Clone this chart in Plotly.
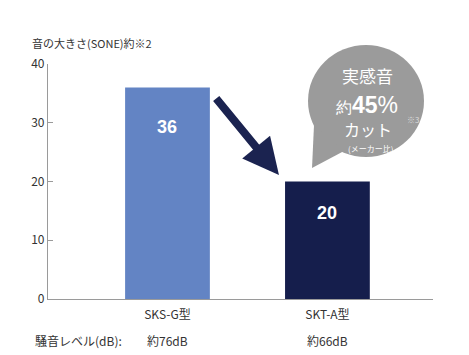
import plotly.graph_objects as go

categories = ["SKS-G型", "SKT-A型"]
sone_values = [36, 20]
noise_labels = ["約76dB", "約66dB"]
bar_colors = ["#6384c4", "#151e4c"]
y_ticks = [0, 10, 20, 30, 40]

FONT = "Noto Sans CJK JP, Noto Sans, sans-serif"
xpos = [0, 1]

fig = go.Figure()
fig.add_trace(go.Bar(
    x=xpos, y=sone_values, marker=dict(color=bar_colors, line=dict(width=0)),
    width=0.53, hoverinfo="skip", showlegend=False,
))

fig.update_layout(
    width=469, height=355,
    margin=dict(l=40, r=44, t=56, b=64),
    paper_bgcolor="white", plot_bgcolor="white",
    font=dict(family=FONT, color="#333333"),
    xaxis=dict(range=[-0.747, 1.66], showgrid=False, zeroline=False,
               showline=True, linecolor="#9a9a9a", linewidth=1.2,
               tickvals=xpos, ticktext=categories, ticks="", ticklabelstandoff=4,
               tickfont=dict(size=12, color="#333333", family=FONT)),
    yaxis=dict(range=[0, 40], tickvals=y_ticks, showgrid=False, zeroline=False,
               showline=True, linecolor="#9a9a9a", linewidth=1.2,
               ticks="inside", ticklen=5, tickcolor="#9a9a9a",
               tickfont=dict(size=12, color="#333333", family=FONT)),
)

ann = []
# axis title
ann.append(dict(text="音の大きさ(SONE)約※2", xref="paper", yref="paper",
                x=-0.047, y=1.0, xanchor="left", yanchor="middle", yshift=21,
                showarrow=False, font=dict(size=11, color="#333333")))
# bar value labels
ann.append(dict(text="<b>36</b>", x=0, y=29.2, showarrow=False,
                font=dict(size=18, color="white", family="Liberation Sans, Arial")))
ann.append(dict(text="<b>20</b>", x=1, y=14.6, showarrow=False,
                font=dict(size=18, color="white", family="Liberation Sans, Arial")))
# noise level row
ann.append(dict(text="騒音レベル(dB):", xref="paper", yref="paper", x=-0.039, y=0,
                yshift=-41, xanchor="left", yanchor="middle", showarrow=False,
                font=dict(size=12)))
for xi, lab in zip(xpos, noise_labels):
    ann.append(dict(text=lab, x=xi, xref="x", yref="paper", y=0, yshift=-41,
                    yanchor="middle", showarrow=False, font=dict(size=12)))
# arrow
ann.append(dict(x=0.697, y=21.1, ax=-64, ay=-78, xref="x", yref="y",
                showarrow=True, arrowhead=2, arrowsize=0.9, arrowwidth=8,
                arrowcolor="#1b2350", text="", standoff=0))
# bubble text
ann.append(dict(text="実感音", x=1.253, y=38.1, showarrow=False,
                font=dict(size=17, color="white")))
ann.append(dict(text="<span style='font-size:16px'>約</span><b>45</b>%", x=1.25, y=33.0,
                showarrow=False, font=dict(size=23, color="white", family="Liberation Sans, Arial")))
ann.append(dict(text="カット", x=1.253, y=28.9, showarrow=False,
                font=dict(size=16, color="white")))
ann.append(dict(text="(メーカー比)", x=1.272, y=25.7, showarrow=False,
                font=dict(size=8, color="white")))
ann.append(dict(text="※3", x=1.534, y=30.6, showarrow=False,
                font=dict(size=8, color="#dcdcdc")))
fig.update_layout(annotations=ann)

# speech bubble (paper-anchored so it is not clipped by the plot area)
bx, by = 0.826, 0.8426
fig.add_shape(type="circle", xref="paper", yref="paper", xsizemode="pixel", ysizemode="pixel",
              xanchor=bx, yanchor=by, x0=-58, x1=58, y0=-56, y1=56,
              fillcolor="#9b9b9b", line=dict(width=0), layer="below")
fig.add_shape(type="path", xref="paper", yref="paper", xsizemode="pixel", ysizemode="pixel",
              xanchor=bx, yanchor=by, path="M -52,-24 L -54,-67 L -22,-50 Z",
              fillcolor="#9b9b9b", line=dict(width=0), layer="below")

fig.write_html("out.html")
